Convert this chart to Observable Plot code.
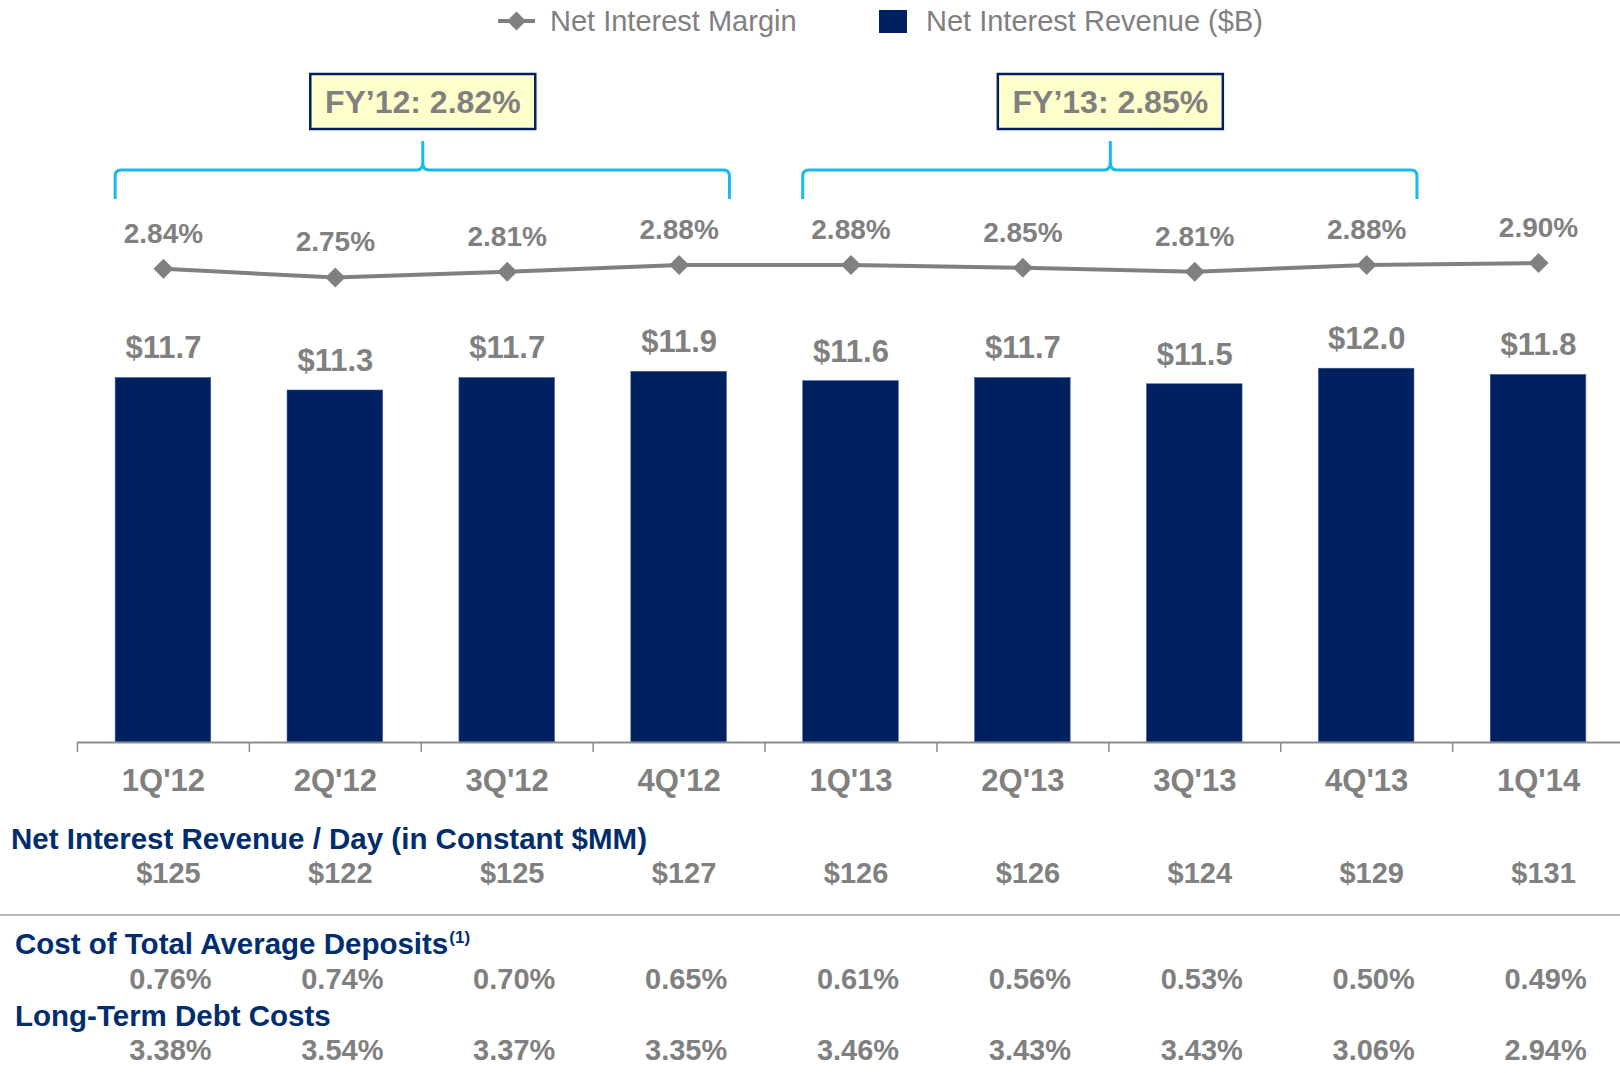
<!DOCTYPE html>
<html>
<head>
<meta charset="utf-8">
<script src="https://cdn.jsdelivr.net/npm/d3@7"></script>
<script src="https://cdn.jsdelivr.net/npm/@observablehq/plot@0.6"></script>
<style>
html, body { margin: 0; padding: 0; background: #fff; }
#chart { position: relative; width: 1620px; height: 1073px; overflow: hidden; font-family: "Liberation Sans", Arial, sans-serif; background: #fff; }
.abs { position: absolute; white-space: nowrap; line-height: 1; }
.hdr { font-weight: bold; font-size: 29.5px; color: #002d6e; }
.hdr sup { font-size: 17px; vertical-align: 0; position: relative; top: -11px; margin-left: 1px; }
.leg { font-size: 29px; color: #808080; }
</style>
</head>
<body>
<div id="chart"></div>
<script>
// ---------- data ----------
const quarters = ["1Q'12", "2Q'12", "3Q'12", "4Q'12", "1Q'13", "2Q'13", "3Q'13", "4Q'13", "1Q'14"];
const revenue = [11.7, 11.3, 11.7, 11.9, 11.6, 11.7, 11.5, 12.0, 11.8];          // Net Interest Revenue ($B)
const nim = [2.84, 2.75, 2.81, 2.88, 2.88, 2.85, 2.81, 2.88, 2.90];              // Net Interest Margin (%)
const revPerDay = [125, 122, 125, 127, 126, 126, 124, 129, 131];                 // $MM / day
const depositCost = [0.76, 0.74, 0.70, 0.65, 0.61, 0.56, 0.53, 0.50, 0.49];      // %
const debtCost = [3.38, 3.54, 3.37, 3.35, 3.46, 3.43, 3.43, 3.06, 2.94];         // %
const fyLabels = ["FY’12: 2.82%", "FY’13: 2.85%"];
const fyFirst = ["1Q'12", "1Q'13"];
const fyLast = ["4Q'12", "4Q'13"];
const rowTitles = ["Net Interest Revenue / Day (in Constant $MM)", "Cost of Total Average Deposits", "Long-Term Debt Costs"];
const legendLabels = ["Net Interest Margin", "Net Interest Revenue ($B)"];

// ---------- styling ----------
const FONT = "'Liberation Sans', Arial, sans-serif";
const NAVY = "#002060";
const GRAY = "#808080";
const CYAN = "#1ab8ec";
const W = 1624, H = 800;
const ML = 77;
const halfBar = 0.278;
const idx = d3.range(quarters.length);
const xOpts = {type: "linear", domain: [-0.5, quarters.length - 0.5], axis: null};
const baseStyle = {background: "transparent", maxWidth: "none", fontFamily: FONT, overflow: "visible"};

const chart = document.getElementById("chart");

// ---------- braces + FY boxes (render mark using the x scale) ----------
function braceMark(index, scales) {
  const g = d3.create("svg:g");
  const yTop = 141, yMid = 170, yEnd = 199, r = 6;
  fyLabels.forEach((label, k) => {
    const a = quarters.indexOf(fyFirst[k]), b = quarters.indexOf(fyLast[k]);
    const xL = scales.x(a - halfBar), xR = scales.x(b + halfBar) + 3, xM = scales.x((a + b) / 2) + 2;
    const p = `M${xL},${yEnd} V${yMid + r} Q${xL},${yMid} ${xL + r},${yMid} H${xM - r} Q${xM},${yMid} ${xM},${yMid - r - 2} V${yTop}` +
              ` M${xM},${yMid - r - 2} Q${xM},${yMid} ${xM + r},${yMid} H${xR - r} Q${xR},${yMid} ${xR},${yMid + r} V${yEnd}`;
    g.append("path").attr("d", p).attr("fill", "none").attr("stroke", CYAN).attr("stroke-width", 3).attr("stroke-linejoin", "round");
    const bw = 225, bh = 55, by = 74;
    g.append("rect").attr("x", xM - bw / 2).attr("y", by).attr("width", bw).attr("height", bh)
      .attr("fill", "#ffffcc").attr("stroke", NAVY).attr("stroke-width", 2.5);
    g.append("text").attr("x", xM).attr("y", by + bh / 2).attr("dy", "0.36em").attr("text-anchor", "middle")
      .attr("font-size", 32).attr("font-weight", "bold").attr("fill", GRAY).attr("font-family", FONT).text(label);
  });
  return g.node();
}

// ---------- main plot: bars ----------
const mainPlot = Plot.plot({
  width: W, height: H,
  marginLeft: ML, marginRight: 0, marginTop: 119, marginBottom: 58,
  style: baseStyle,
  x: xOpts,
  y: {domain: [0, 20], axis: null},
  marks: [
    Plot.rect(idx, {x1: i => i - halfBar, x2: i => i + halfBar, y1: 0, y2: i => revenue[i], fill: NAVY, stroke: "#3d5c99", strokeWidth: 0.6}),
    Plot.ruleY([0], {stroke: "#8c8c8c", strokeWidth: 2}),
    Plot.axisX(d3.range(quarters.length + 1).map(i => i - 0.5), {tickSize: 10, tickFormat: () => "", stroke: "#8c8c8c", strokeWidth: 1.5, label: null}),
    Plot.text(idx, {x: i => i, y: 0, dy: 39, text: i => quarters[i], fontSize: 31, fontWeight: "bold", fill: GRAY}),
    Plot.text(idx, {x: i => i, y: i => revenue[i], dy: -29.5, text: i => "$" + revenue[i].toFixed(1), fontSize: 31, fontWeight: "bold", fill: GRAY}),
    braceMark
  ]
});
mainPlot.style.position = "absolute";
mainPlot.style.top = "0px";
mainPlot.style.left = "0px";
chart.appendChild(mainPlot);

// ---------- overlay plot: net interest margin ----------
const nimPlot = Plot.plot({
  width: W, height: H,
  marginLeft: ML, marginRight: 0, marginTop: 252.9, marginBottom: 498.9,
  style: baseStyle,
  x: xOpts,
  y: {domain: [2.5, 3.0], axis: null},
  marks: [
    Plot.line(idx, {x: i => i, y: i => nim[i], stroke: GRAY, strokeWidth: 4}),
    Plot.dot(idx, {x: i => i, y: i => nim[i], symbol: "diamond2", r: 9, fill: GRAY, stroke: "none"}),
    Plot.text(idx, {x: i => i, y: i => nim[i], dy: -35, text: i => nim[i].toFixed(2) + "%", fontSize: 28, fontWeight: "bold", fill: GRAY})
  ]
});
nimPlot.style.position = "absolute";
nimPlot.style.top = "0px";
nimPlot.style.left = "0px";
chart.appendChild(nimPlot);

// ---------- legend ----------
function addDiv(cls, html, left, top) {
  const d = document.createElement("div");
  d.className = "abs " + cls;
  d.innerHTML = html;
  d.style.left = left + "px";
  d.style.top = top + "px";
  chart.appendChild(d);
  return d;
}
addDiv("", `<svg width="40" height="26" style="display:block"><line x1="1" y1="13" x2="38" y2="13" stroke="${GRAY}" stroke-width="4"/><path d="M19.5,3.5 L29,13 L19.5,22.5 L10,13 Z" fill="${GRAY}"/></svg>`, 497, 8);
addDiv("leg", legendLabels[0], 550, 7);
addDiv("", `<div style="width:28px;height:23px;background:${NAVY}"></div>`, 879, 10);
addDiv("leg", legendLabels[1], 926, 7);

// ---------- table rows ----------
addDiv("hdr", rowTitles[0], 11, 823.5);
addDiv("hdr", rowTitles[1] + "<sup>(1)</sup>", 15, 928.5);
addDiv("hdr", rowTitles[2], 15, 1000.5);

const sep = document.createElement("div");
sep.style.cssText = "position:absolute;left:0;top:914px;width:1620px;height:2px;background:#b8b8b8;";
chart.appendChild(sep);

function valueRow(values, fmt, top, dx) {
  const p = Plot.plot({
    width: W, height: 40, marginLeft: ML, marginRight: 0, marginTop: 0, marginBottom: 0,
    style: baseStyle,
    x: xOpts,
    marks: [
      Plot.text(idx, {x: i => i, text: i => fmt(values[i]), dx, fontSize: 29, fontWeight: "bold", fill: GRAY})
    ]
  });
  p.style.position = "absolute";
  p.style.top = top + "px";
  p.style.left = "0px";
  chart.appendChild(p);
}
valueRow(revPerDay, v => "$" + v, 853, 5);
valueRow(depositCost, v => v.toFixed(2) + "%", 959, 7);
valueRow(debtCost, v => v.toFixed(2) + "%", 1029.5, 7);
</script>
</body>
</html>
